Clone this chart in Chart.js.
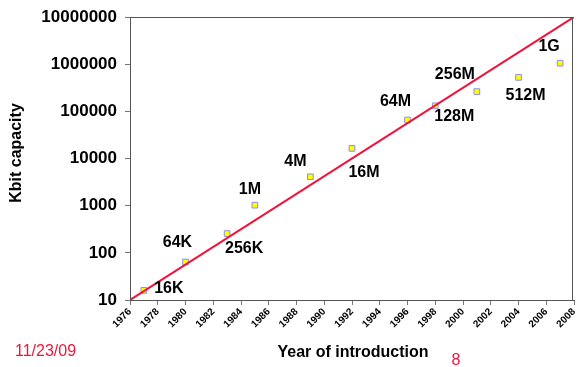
<!DOCTYPE html>
<html>
<head>
<meta charset="utf-8">
<script src="https://cdn.jsdelivr.net/npm/chart.js@4/dist/chart.umd.min.js"></script>
<style>
  html, body { margin: 0; padding: 0; background: #fff; }
  #wrap { width: 579px; height: 367px; position: relative; }
</style>
</head>
<body>
<div id="wrap"><canvas id="grafica" width="579" height="367"></canvas></div>
<script>
// datos de la grafica
const years = [1977, 1980, 1983, 1985, 1989, 1992, 1996, 1998, 2001, 2004, 2007];
const capacityKbit = [16, 64, 256, 1024, 4096, 16384, 65536, 131072, 262144, 524288, 1048576];
const chipNames = ["16K", "64K", "256K", "1M", "4M", "16M", "64M", "128M", "256M", "512M", "1G"];
const trendYears = [1976, 2008];
const trendValues = [10, 10000000];
const yTickValues = [10, 100, 1000, 10000, 100000, 1000000, 10000000];
const xTickValues = [1976, 1978, 1980, 1982, 1984, 1986, 1988, 1990, 1992, 1994, 1996, 1998, 2000, 2002, 2004, 2006, 2008];

// donde va cada etiqueta respecto a su punto
const etiquetaOffset = [[25, -2], [-8, -19], [17, 15], [-5, -16], [-15, -15], [12, 24], [-12, -18], [19, 11], [-22, -17], [7, 18], [-11, -17]];

const FUENTE = "Arial, 'Liberation Sans', sans-serif";
const ROJO = "#f0143c";

const textos = {
  id: "textos",
  afterDatasetsDraw(chart) {
    const { ctx, chartArea } = chart;
    const meta = chart.getDatasetMeta(1);
    ctx.save();
    // marco
    ctx.strokeStyle = "#555";
    ctx.lineWidth = 1;
    ctx.strokeRect(chartArea.left + 0.5, chartArea.top + 0.5, chartArea.right - chartArea.left - 2, chartArea.bottom - chartArea.top);
    // etiquetas de los chips
    ctx.fillStyle = "#000";
    ctx.font = "bold 16px " + FUENTE;
    ctx.textAlign = "center";
    ctx.textBaseline = "middle";
    meta.data.forEach((p, i) => {
      const [dx, dy] = etiquetaOffset[i];
      ctx.fillText(chipNames[i], p.x + dx, p.y + dy);
    });
    // titulos
    ctx.fillText("Year of introduction", 353, 353);
    ctx.save();
    ctx.translate(17, 153);
    ctx.rotate(-Math.PI / 2);
    ctx.fillText("Kbit capacity", 0, 0);
    ctx.restore();
    // pie
    ctx.fillStyle = ROJO;
    ctx.font = "16px " + FUENTE;
    ctx.textAlign = "left";
    ctx.fillText("11/23/09", 15, 352);
    ctx.textAlign = "center";
    ctx.fillText("8", 456, 361);
    ctx.restore();
  }
};

new Chart(document.getElementById("grafica"), {
  type: "scatter",
  data: {
    datasets: [
      {
        type: "line",
        data: trendYears.map((x, i) => ({ x, y: trendValues[i] })),
        borderColor: ROJO,
        borderWidth: 2,
        pointRadius: 0,
        fill: false
      },
      {
        data: years.map((x, i) => ({ x, y: capacityKbit[i] })),
        pointStyle: "rect",
        pointRadius: 4,
        backgroundColor: "#ffff00",
        borderColor: "#8c8cf0",
        borderWidth: 1
      }
    ]
  },
  options: {
    responsive: false,
    animation: false,
    devicePixelRatio: 1,
    layout: { padding: { left: 0, top: 17, right: 2, bottom: 0 } },
    plugins: { legend: { display: false }, tooltip: { enabled: false } },
    scales: {
      x: {
        type: "linear",
        min: 1976,
        max: 2008,
        afterBuildTicks: s => { s.ticks = xTickValues.map(value => ({ value })); },
        afterFit: s => { s.height = 67; s.paddingLeft = 0; s.paddingRight = 0; },
        grid: { drawOnChartArea: false, tickLength: 5, color: "#777" },
        border: { color: "#555" },
        ticks: {
          minRotation: 45,
          maxRotation: 45,
          padding: 1,
          color: "#000",
          font: { family: FUENTE, size: 10, weight: "bold" },
          callback: v => String(v)
        }
      },
      y: {
        type: "logarithmic",
        min: 10,
        max: 10000000,
        afterBuildTicks: s => { s.ticks = yTickValues.map(value => ({ value })); },
        afterFit: s => { s.width = 130; s.paddingTop = 0; s.paddingBottom = 0; },
        grid: { drawOnChartArea: false, tickLength: 5, color: "#777" },
        border: { color: "#555" },
        ticks: {
          padding: 8,
          color: "#000",
          font: { family: FUENTE, size: 17, weight: "bold" },
          callback: v => String(v)
        }
      }
    }
  },
  plugins: [textos]
});
</script>
</body>
</html>
